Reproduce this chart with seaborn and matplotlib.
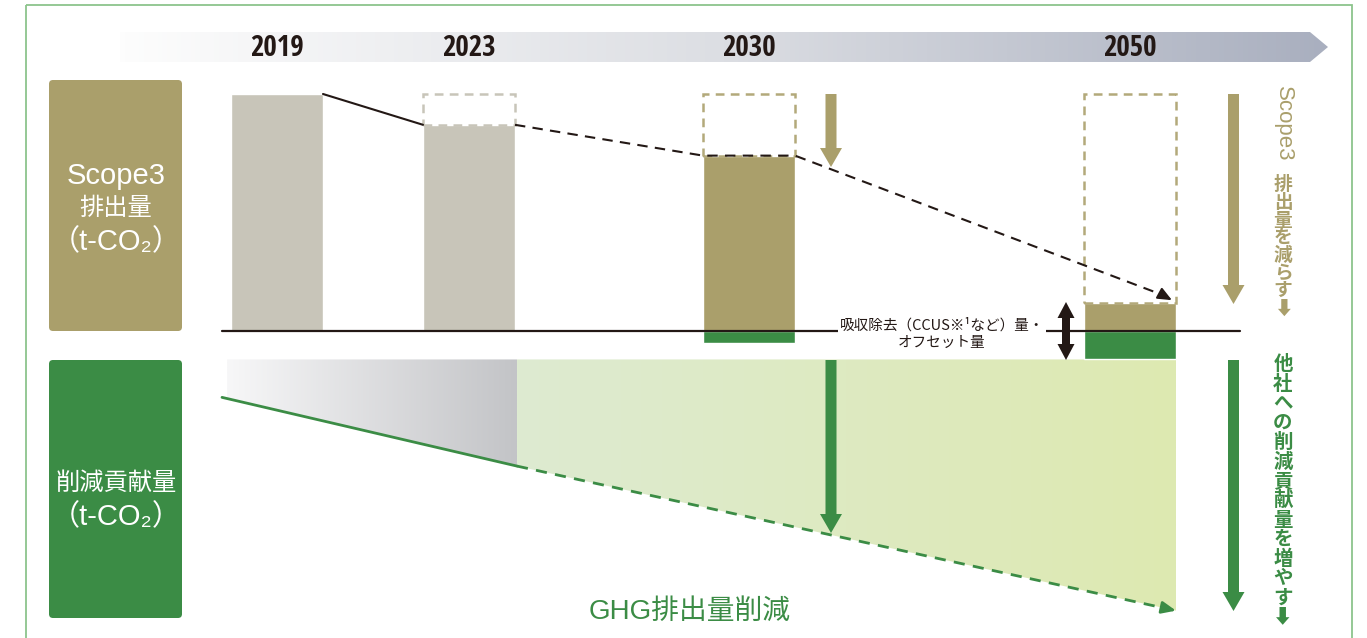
import numpy as np
import matplotlib
matplotlib.use("Agg")
import matplotlib.pyplot as plt
import seaborn as sns
from matplotlib import font_manager
from matplotlib.patches import Polygon, Rectangle, FancyBboxPatch, FancyArrow
from matplotlib.colors import LinearSegmentedColormap

# ---------------- data ----------------
years = ["2019", "2023", "2030", "2050"]
scope3 = [100, 87, 74, 12]            # Scope3 emissions (index, 2019 = 100)
target = [np.nan, 100, 100, 100]      # dashed frame = 2019 level
removal = [0, 0, -5, -12]             # removal / offset (below baseline)
contrib_vals = [-28, -57, -118]       # contribution line: start, 2023, 2050
trend_end = 13                        # arrow end of dashed emission trend
area_top = -12

left_labels = ["Scope3\n排出量\n（t-CO₂）", "削減貢献量\n（t-CO₂）"]
right_top_latin = "Scope3"
right_top_chars = "排出量を減らす⬇"
right_bottom_chars = "他社への削減貢献量を増やす⬇"
middle_label = "吸収除去（CCUS※¹など）量・\nオフセット量"
bottom_label = "GHG排出量削減"

# ---------------- layout / style ----------------
W, H = 1367, 638
bar_x = [277, 469, 749, 1130]
bar_w = 92
base_px = 331
ppu = 2.37
contrib_x = [222, 517, 1176]

TAN = "#aa9f6b"
TAN_D = "#b3a97a"
GRAY = "#c8c5b9"
GREEN = "#3b8c45"
BLACK = "#231815"

sns.set_theme(style="white")
CJK = ["Noto Sans CJK JP", "DejaVu Sans"]
LAT = ["Liberation Sans", "Noto Sans CJK JP", "DejaVu Sans"]
plt.rcParams["font.family"] = CJK

# condensed bold font for the year labels
year_fp = None
for key in ["LiberationSansNarrow-Bold.", "NotoSans-CondensedBold", "OpenSans-CondBold",
            "RobotoCondensed-Bold", "DejaVuSansCondensed-Bold"]:
    for f in font_manager.fontManager.ttflist:
        if key in f.fname:
            year_fp = font_manager.FontProperties(fname=f.fname, size=21)
            break
    if year_fp is not None:
        break
if year_fp is None:
    year_fp = font_manager.FontProperties(family="Roboto", weight="bold", size=19)

fig = plt.figure(figsize=(W / 100, H / 100), dpi=100)

# data axes: x in layout units, y in emission-index units
ax = fig.add_axes([0, 0, 1, 1])
ax.set_xlim(0, W)
ylim = (-(H - base_px) / ppu, base_px / ppu)
ax.set_ylim(*ylim)
ax.axis("off")

# overlay axes in pixel units for frame, labels and decorations
ov = fig.add_axes([0, 0, 1, 1], zorder=5)
ov.set_xlim(0, W)
ov.set_ylim(H, 0)
ov.axis("off")
ov.patch.set_alpha(0)

# ---------- lower gradient area ----------
gray_cmap = LinearSegmentedColormap.from_list("g", ["#f7f7f8", "#c3c4c7"])
green_cmap = LinearSegmentedColormap.from_list("gr", ["#deebd1", "#dde9b1"])
grad = np.linspace(0, 1, 256).reshape(1, -1)

poly_gray = Polygon([(contrib_x[0] + 5, area_top), (contrib_x[1], area_top),
                     (contrib_x[1], contrib_vals[1]), (contrib_x[0] + 5, contrib_vals[0])],
                    closed=True, facecolor="none", edgecolor="none")
ax.add_patch(poly_gray)
im = ax.imshow(grad, extent=[contrib_x[0] + 5, contrib_x[1], ylim[0], area_top],
               aspect="auto", cmap=gray_cmap, zorder=1)
im.set_clip_path(poly_gray)

poly_green = Polygon([(contrib_x[1], area_top), (contrib_x[2], area_top),
                      (contrib_x[2], contrib_vals[2]), (contrib_x[1], contrib_vals[1])],
                     closed=True, facecolor="none", edgecolor="none")
ax.add_patch(poly_green)
im2 = ax.imshow(grad, extent=[contrib_x[1], contrib_x[2], ylim[0], area_top],
                aspect="auto", cmap=green_cmap, zorder=1)
im2.set_clip_path(poly_green)
ax.set_xlim(0, W)
ax.set_ylim(*ylim)

# ---------- bars ----------
bar_colors = [GRAY, GRAY, TAN, TAN]
ax.bar(bar_x, scope3, width=bar_w, color=bar_colors, zorder=2)
ax.bar(bar_x, removal, width=bar_w, color=GREEN, zorder=2)

# dashed target frames
frame_colors = [GRAY, GRAY, TAN_D, TAN_D]
for xi, s, t, c in zip(bar_x, scope3, target, frame_colors):
    if np.isnan(t):
        continue
    ax.add_patch(Rectangle((xi - bar_w / 2, s), bar_w, t - s, fill=False,
                           edgecolor=c, lw=1.8, ls=(0, (3.5, 2.5)), zorder=3))

# baseline
ax.axhline(0, xmin=222 / W, xmax=1240 / W, color=BLACK, lw=1.6, zorder=4)

# emission trend lines
sns.lineplot(x=[bar_x[0] + bar_w / 2, bar_x[1] - bar_w / 2],
             y=[scope3[0], scope3[1]], ax=ax, color=BLACK, lw=1.5, zorder=4)
tx = [bar_x[1] + bar_w / 2, bar_x[2] - bar_w / 2, bar_x[2] + bar_w / 2, bar_x[3] + bar_w / 2 - 14]
ty = [scope3[1], scope3[2], scope3[2], trend_end + 2.3]
sns.lineplot(x=tx, y=ty, ax=ax, color=BLACK, lw=1.5, linestyle=(0, (5, 3.5)), zorder=4)
ax.annotate("", xy=(bar_x[3] + bar_w / 2 - 4, trend_end), xytext=(tx[-1], ty[-1]),
            arrowprops=dict(arrowstyle="-|>,head_length=0.7,head_width=0.3",
                            color=BLACK, lw=1.5, shrinkA=0, shrinkB=0), zorder=4)

# contribution lines
sns.lineplot(x=contrib_x[:2], y=contrib_vals[:2], ax=ax, color=GREEN, lw=2, zorder=4)
cx_end = contrib_x[2] - 12
cy_end = contrib_vals[1] + (contrib_vals[2] - contrib_vals[1]) * (cx_end - contrib_x[1]) / (contrib_x[2] - contrib_x[1])
sns.lineplot(x=[contrib_x[1], cx_end], y=[contrib_vals[1], cy_end], ax=ax,
             color=GREEN, lw=2, linestyle=(0, (4, 3)), zorder=4)
ax.annotate("", xy=(contrib_x[2], contrib_vals[2]), xytext=(cx_end, cy_end),
            arrowprops=dict(arrowstyle="-|>,head_length=0.7,head_width=0.3",
                            color=GREEN, lw=2, shrinkA=0, shrinkB=0), zorder=4)
ax.set_xlim(0, W)
ax.set_ylim(*ylim)
if ax.get_legend():
    ax.get_legend().remove()

# ---------- overlay decorations ----------
# outer frame
ov.add_patch(Rectangle((26, 5), 1326, 700, fill=False, edgecolor="#8cc48c", lw=1.3))

# timeline arrow
tl_poly = Polygon([(120, 32), (1310, 32), (1328, 47), (1310, 62), (120, 62)],
                  closed=True, facecolor="none", edgecolor="none")
ov.add_patch(tl_poly)
tl_cmap = LinearSegmentedColormap.from_list("tl", ["#fdfdfd", "#dcdee3", "#a9afbf"])
im3 = ov.imshow(grad, extent=[120, 1328, 62, 32], aspect="auto", cmap=tl_cmap, zorder=1)
im3.set_clip_path(tl_poly)
ov.set_xlim(0, W)
ov.set_ylim(H, 0)
for xi, yr in zip(bar_x, years):
    ov.text(xi, 48, yr, ha="center", va="center", fontproperties=year_fp,
            color=BLACK, zorder=3)

# left label boxes
ov.add_patch(FancyBboxPatch((49, 80), 133, 251, boxstyle="round,pad=0,rounding_size=4",
                            facecolor=TAN, edgecolor="none"))
ov.add_patch(FancyBboxPatch((49, 360), 133, 258, boxstyle="round,pad=0,rounding_size=4",
                            facecolor=GREEN, edgecolor="none"))
for label, y0 in zip(left_labels, [176, 484]):
    for j, line in enumerate(label.split("\n")):
        has_latin = any(c.isascii() and c.isalnum() for c in line)
        ov.text(116, y0 + j * 33, line, ha="center", va="center", color="white",
                fontsize=21 if has_latin else 17.5, family=LAT)

# right vertical texts
ov.text(1283, 124, right_top_latin, ha="center", va="center", rotation=-90,
        color=TAN, fontsize=16, family=LAT)
for i, ch in enumerate(right_top_chars):
    ov.text(1283, 185 + i * 17.6, ch, ha="center", va="center", color=TAN,
            fontsize=13.5, fontweight="bold", family=CJK)
for i, ch in enumerate(right_bottom_chars):
    ov.text(1283, 365 + i * 19.4, ch, ha="center", va="center", color=GREEN,
            fontsize=14, fontweight="bold", family=CJK)

# arrows
def varrow(x, y0, y1, color, sw=11, hw=22, hl=19):
    ov.add_patch(FancyArrow(x, y0, 0, y1 - y0, width=sw, head_width=hw, head_length=hl,
                            length_includes_head=True, color=color, lw=0, zorder=3))

varrow(831, 94, 167, TAN)
varrow(1233.5, 94, 304, TAN)
varrow(831, 360, 533, GREEN)
varrow(1233.5, 360, 611, GREEN)
# double arrow
varrow(1066, 331, 302, BLACK, sw=8, hw=17, hl=16)
varrow(1066, 331, 360, BLACK, sw=8, hw=17, hl=16)

# middle label
ov.text(942, 334, middle_label, ha="center", va="center", fontsize=10.5,
        color=BLACK, linespacing=1.25, family=CJK, zorder=2,
        bbox=dict(boxstyle="square,pad=0.1", facecolor="white", edgecolor="none"))

# bottom label
ov.text(690, 612, bottom_label, ha="center", va="center", fontsize=20,
        color=GREEN, family=LAT)

fig.savefig("out.png", dpi=100)
